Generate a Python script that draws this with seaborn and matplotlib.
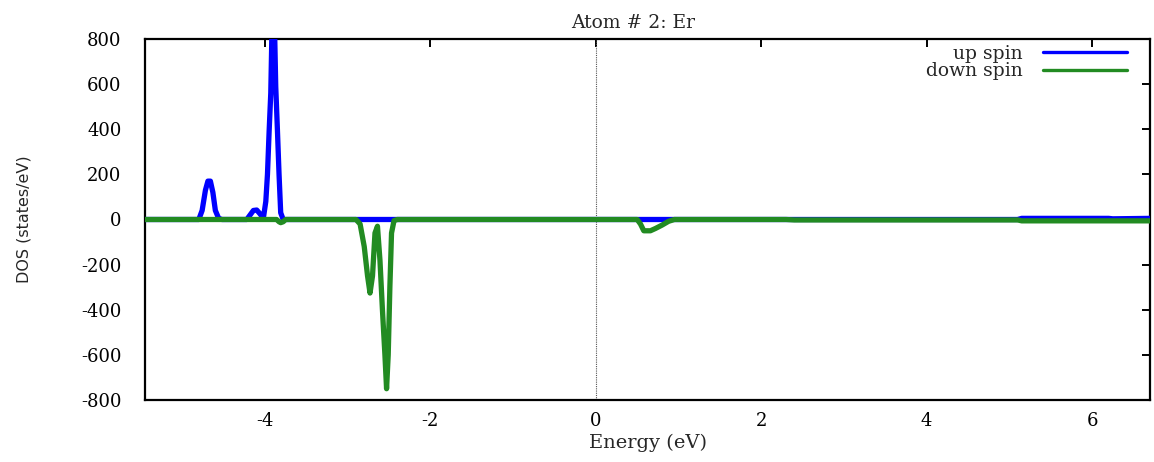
import matplotlib
matplotlib.use("Agg")
import matplotlib.pyplot as plt
import numpy as np
import pandas as pd
import seaborn as sns

# Projected DOS of atom 2 (Er), spin-resolved
energy_up = [-5.45, -4.80, -4.76, -4.72, -4.69, -4.66, -4.63, -4.60, -4.56, -4.52,
             -4.22, -4.18, -4.14, -4.10, -4.06, -4.02, -3.99, -3.97, -3.95, -3.93,
             -3.91, -3.89, -3.87, -3.85, -3.83, -3.81, -3.78, 5.10, 5.15, 6.20, 6.25, 6.70]
dos_up = [0, 0, 40, 130, 170, 170, 120, 40, 5, 0,
          0, 20, 40, 42, 25, 5, 80, 200, 390, 560,
          950, 950, 590, 400, 200, 30, 0, 0, 5, 5, 3, 5]

energy_dn = [-5.45, -3.86, -3.83, -3.81, -3.78, -3.75, -2.90, -2.85, -2.80, -2.76,
             -2.73, -2.70, -2.67, -2.64, -2.61, -2.58, -2.55, -2.53, -2.51, -2.49,
             -2.47, -2.44, -2.40, 0.50, 0.54, 0.58, 0.66, 0.72, 0.80, 0.88, 0.95,
             2.30, 2.40, 5.10, 5.15, 6.70]
dos_dn = [0, 0, -10, -14, -10, 0, 0, -20, -120, -250,
          -326, -250, -60, -30, -180, -400, -600, -750, -600, -300,
          -60, -5, 0, 0, -20, -50, -50, -40, -25, -8, 0,
          0, -2, -2, -6, -6]

xticks = [-4, -2, 0, 2, 4, 6]
yticks = [-800, -600, -400, -200, 0, 200, 400, 600, 800]

df = pd.concat([
    pd.DataFrame({"Energy": energy_up, "DOS": dos_up, "spin": "up spin"}),
    pd.DataFrame({"Energy": energy_dn, "DOS": dos_dn, "spin": "down spin"}),
])

sns.set_theme(style="white")
plt.rcParams["font.family"] = ["DejaVu Serif"]

fig = plt.figure(figsize=(11.54, 4.62), dpi=100)
ax = fig.add_axes([0.1257, 0.1342, 0.8708, 0.7814])

ax.axvline(0, color="#555555", ls=(0, (1, 1)), lw=0.8, zorder=1)

sns.lineplot(data=df, x="Energy", y="DOS", hue="spin",
             palette={"up spin": "#0000ff", "down spin": "#228b22"},
             estimator=None, sort=False, lw=3.8, ax=ax, zorder=3)

ax.set_xlim(-5.45, 6.7)
ax.set_ylim(-800, 800)
ax.set_xticks(xticks)
ax.set_xticklabels([str(t) for t in xticks])
ax.set_yticks(yticks)
ax.set_yticklabels([str(t) for t in yticks])

for s in ax.spines.values():
    s.set_color("black")
    s.set_linewidth(1.6)

ax.tick_params(direction="in", length=6, width=1.4, top=True, right=True,
               labelsize=13, colors="black")
ax.tick_params(axis="y", pad=17)
ax.tick_params(axis="x", pad=9)

ax.set_xlabel("Energy (eV)", fontsize=14, labelpad=2)
ax.set_ylabel("DOS (states/eV)", fontsize=11.5, family=["DejaVu Sans"])
ax.yaxis.set_label_coords(-0.113, 0.5)
ax.set_title("Atom # 2: Er", fontsize=13.5, pad=8, x=0.486)

leg = ax.legend(loc="upper right", frameon=False, markerfirst=False,
                fontsize=13.5, handlelength=4.5, handletextpad=1.1,
                labelspacing=-0.05, borderaxespad=0.0,
                bbox_to_anchor=(0.985, 1.004))
for h in leg.get_lines():
    h.set_linewidth(2.4)

fig.savefig("out.png", dpi=100)
